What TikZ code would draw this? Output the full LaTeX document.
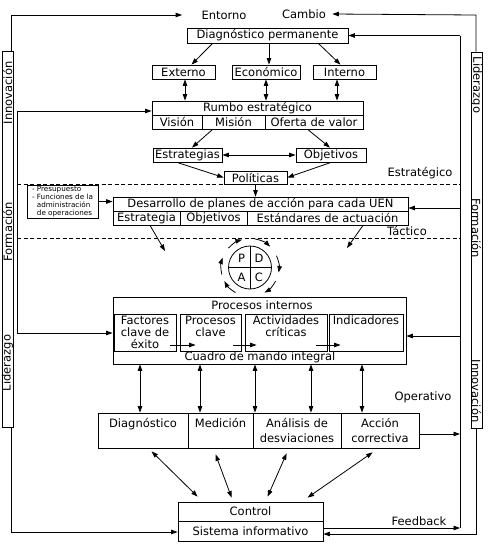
\documentclass[tikz,border=0pt]{standalone}
\usepackage{fontspec}
\setmainfont{DejaVu Sans}
\usepackage{tikz}
\usetikzlibrary{arrows.meta}

\newcommand{\txt}{\fontsize{11.5}{12}\selectfont}
\newcommand{\optxt}{\fontsize{11.5}{15.5}\selectfont}
\newcommand{\mini}{\fontsize{7.2}{8}\selectfont}

\begin{document}
\begin{tikzpicture}[x=1pt, y=-1pt, line width=0.8pt,
  >={Triangle[length=6.5pt,width=4.5pt]},
  caja/.style={draw, rectangle, inner sep=0pt, font=\txt, align=center},
  celda/.style={caja, minimum height=14pt},
  etiqueta/.style={inner sep=0pt, font=\txt},
  barra/.style={draw, rectangle, inner sep=0pt, minimum width=11pt, minimum height=376pt},
  nivel/.style={dash pattern=on 4pt off 2.5pt}]
\useasboundingbox (0,0) rectangle (493,547);

% Entorno y cambio
\node[etiqueta] (entorno) at (224,15) {Entorno};
\node[etiqueta] (cambio) at (304,14) {Cambio};

% Diagnostico permanente
\node[celda, minimum width=161pt, minimum height=15pt] (diag) at (267.5,35.5) {Diagnóstico permanente};
\node[celda, minimum width=63pt] (ext) at (183.5,72) {Externo};
\node[celda, minimum width=68pt] (eco) at (266,72) {Económico};
\node[celda, minimum width=63pt] (inter) at (344.5,72) {Interno};

% Rumbo estrategico
\node[celda, minimum width=211pt] (rumbo) at (257.5,108) {Rumbo estratégico};
\node[celda, minimum width=50pt] (vision) at (177,122) {Visión};
\node[celda, minimum width=63pt] (mision) at (233.5,122) {Misión};
\node[celda, minimum width=98pt] (oferta) at (314,122) {Oferta de valor};

\node[celda, minimum width=69pt] (estr) at (187.5,155) {Estrategias};
\node[celda, minimum width=70pt] (obj) at (331,155) {Objetivos};
\node[celda, minimum width=63pt, minimum height=13pt] (pol) at (255.5,177.5) {Políticas};

% Desarrollo de planes
\node[draw, inner sep=0pt, minimum width=71pt, minimum height=33pt, font=\mini, align=left] (presup) at (62.5,201.5)
  {- Presupuesto\\- Funciones de la\\\phantom{- }administración\\\phantom{- }de operaciones};
\node[celda, minimum width=295pt] (desa) at (260.5,204) {Desarrollo de planes de acción para cada UEN};
\node[celda, minimum width=67pt] (estrat) at (146.5,218) {Estrategia};
\node[celda, minimum width=67pt] (objet) at (213.5,218) {Objetivos};
\node[celda, minimum width=161pt] (estan) at (327.5,218) {Estándares de actuación};

% Niveles
\node[etiqueta] (estrategico) at (420,173) {Estratégico};
\node[etiqueta] (tactico) at (407,231) {Táctico};
\node[etiqueta] (operativo) at (423,397) {Operativo};
\coordinate (n1a) at (17,184);
\coordinate (n1b) at (460,184);
\coordinate (n2a) at (17,238);
\coordinate (n2b) at (460,238);
\draw[nivel] (n1a) -- (n1b);
\draw[nivel] (n2a) -- (n2b);

% Ciclo PDCA
\node[draw, circle, inner sep=0pt, minimum size=43pt] (pdca) at (250,267.5) {};
\draw (pdca.north) -- (pdca.south);
\draw (pdca.west) -- (pdca.east);
\node[etiqueta] (p) at (241.5,258) {P};
\node[etiqueta] (d) at (259,258) {D};
\node[etiqueta] (a) at (241.5,277) {A};
\node[etiqueta] (c) at (259,277) {C};
\foreach \a/\b in {138/106, 80/46, 24/-10, -28/-60, -120/-152, 194/160}
  \draw[->] ([shift={(\a:29pt)}]pdca.center) arc[start angle=\a, end angle=\b, radius=29pt];

% Procesos internos
\node[draw, inner sep=0pt, minimum width=293pt, minimum height=67pt] (proc) at (259.5,330.5) {};
\node[etiqueta] (proctit) at (262,305) {Procesos internos};
\node[caja, minimum width=62pt, minimum height=37pt] (factores) at (145,332.5) {Factores\\clave de\\éxito};
\node[caja, minimum width=61pt, minimum height=37pt] (pclave) at (210.5,332.5) {Procesos\\clave\\\vphantom{x}};
\node[caja, minimum width=82pt, minimum height=37pt] (activ) at (286,332.5) {Actividades\\críticas\\\vphantom{x}};
\node[caja, minimum width=74pt, minimum height=37pt] (indic) at (366,332.5) {Indicadores\\\vphantom{x}\\\vphantom{x}};
\node[etiqueta] (cuadro) at (260,357) {Cuadro de mando integral};
\draw[->] ([shift={(-6,12.5)}]factores.east) -- ([shift={(16,12.5)}]pclave.west);
\draw[->] ([shift={(-8,12.5)}]pclave.east) -- ([shift={(12,12.5)}]activ.west);
\draw[->] ([shift={(-11,12.5)}]activ.east) -- ([shift={(12,12.5)}]indic.west);

% Nivel operativo
\node[caja, minimum width=90pt, minimum height=35pt, font=\optxt] (diagnos) at (143,430.5) {Diagnóstico\\\vphantom{x}};
\node[caja, minimum width=65pt, minimum height=35pt, font=\optxt] (medic) at (220.5,430.5) {Medición\\\vphantom{x}};
\node[caja, minimum width=88pt, minimum height=35pt, font=\optxt] (anal) at (297,430.5) {Análisis de\\desviaciones};
\node[caja, minimum width=78pt, minimum height=35pt, font=\optxt] (accion) at (380,430.5) {Acción\\correctiva};

% Control
\node[celda, minimum width=145pt, minimum height=19pt] (control) at (250.5,511.5) {Control};
\node[celda, minimum width=145pt, minimum height=20pt] (sistema) at (250.5,531) {Sistema informativo};
\node[etiqueta] (feedback) at (419,521) {Feedback};

% Barras laterales
\node[barra] (lbar) at (7.5,239) {};
\node[etiqueta, rotate=90] (linnov) at (7.5,93) {Innovación};
\node[etiqueta, rotate=90] (lform) at (7.5,232) {Formación};
\node[etiqueta, rotate=90] (llider) at (7.5,363) {Liderazgo};
\node[barra] (rbar) at (476.5,240) {};
\node[etiqueta, rotate=-90] (rlider) at (476.5,85) {Liderazgo};
\node[etiqueta, rotate=-90] (rform) at (476.5,228) {Formación};
\node[etiqueta, rotate=-90] (rinnov) at (476.5,391) {Innovación};

% Lazos exteriores
\coordinate (lsup) at (11,15);
\coordinate (linf) at (11,532);
\draw[->] (lbar.north -| lsup) -- (lsup) -- ([xshift=-19pt]entorno.west);
\draw[->] (lbar.south -| linf) -- (linf) -- (sistema.west |- linf);
\coordinate (rsup) at (476,15);
\coordinate (rinf) at (476,534);
\draw[->] (rbar.north -| rsup) -- (rsup) -- ([xshift=6pt]cambio.east);
\draw[->] (rbar.south -| rinf) -- (rinf) -- (sistema.east |- rinf);

% Lazo interior izquierdo
\coordinate (iz1) at (17,111);
\coordinate (iz2) at (17,333);
\draw[<->] (rumbo.west |- iz1) -- (iz1) -- (iz2) -- (proc.west |- iz2);

% Lazo interior derecho
\coordinate (de1) at (460,35.5);
\coordinate (de2) at (460,528);
\coordinate (de3) at (460,208);
\coordinate (de4) at (460,336);
\coordinate (de5) at (460,434);
\draw (de1) -- (de2);
\draw[->] (de1) -- (diag.east);
\draw[->] (de3) -- (desa.east |- de3);
\draw[->] (de4) -- (proc.east |- de4);
\draw[->] (accion.east |- de5) -- (de5);
\draw[->] (sistema.east |- de2) -- (de2);

% Flechas superiores
\draw[->] ([xshift=26pt]diag.south west) -- ([xshift=8pt]ext.north);
\draw[->] ([xshift=3pt]eco.north |- diag.south) -- ([xshift=3pt]eco.north);
\draw[->] ([xshift=-30pt]diag.south east) -- ([xshift=-4pt]inter.north);
\draw[<->] ([xshift=1.5pt]ext.south) -- ([xshift=1.5pt]ext.south |- rumbo.north);
\draw[<->] (eco.south) -- (eco.south |- rumbo.north);
\draw[<->] ([xshift=-7.5pt]inter.south) -- ([xshift=-7.5pt]inter.south |- rumbo.north);
\draw[->] ([xshift=11pt]mision.south west) -- ([xshift=4.5pt]estr.north);
\draw[->] ([xshift=43pt]oferta.south west) -- ([xshift=-1pt]obj.north);
\draw[<->] (estr.east) -- (obj.west);
\draw[->] ([xshift=-10.5pt]estr.south) -- (pol.west);
\draw[->] (obj.south) -- (pol.east);
\draw[->] (pol.south) -- (pol.south |- desa.north);
\draw[->] (presup.east) -- (presup.east -| desa.west);

% Hacia el ciclo
\coordinate (fl1) at (165,251);
\coordinate (fl2) at (347,248);
\draw[->] ([xshift=3.5pt]estrat.south) -- (fl1);
\draw[->] ([xshift=35.5pt]estan.south) -- (fl2);

% Procesos <-> operativo
\foreach \x in {140,200,255,311,362} {
  \coordinate (t) at (\x,0);
  \draw[<->] (proc.south -| t) -- (diagnos.north -| t);
}

% Operativo <-> control
\draw[<->] ([xshift=54pt,yshift=-3pt]diagnos.south west) -- ([xshift=20pt,yshift=5pt]control.north west);
\draw[<->] ([xshift=28pt,yshift=-6pt]medic.south west) -- ([xshift=54pt,yshift=4pt]control.north west);
\draw[<->] ([xshift=34pt,yshift=-5pt]anal.south west) -- ([xshift=90pt,yshift=5pt]control.north west);
\draw[<->] ([xshift=32pt,yshift=-4pt]accion.south west) -- ([xshift=130pt,yshift=4pt]control.north west);
\end{tikzpicture}
\end{document}
